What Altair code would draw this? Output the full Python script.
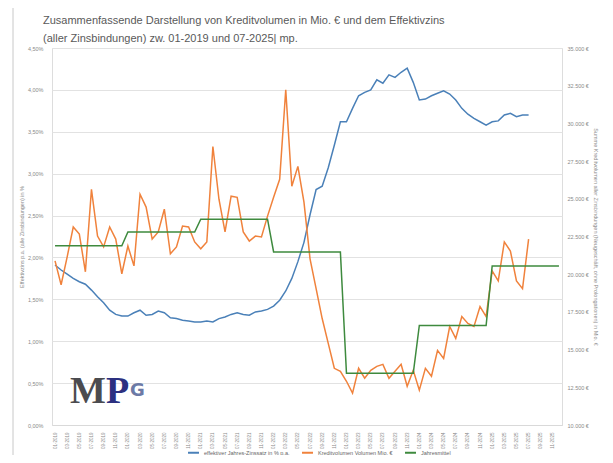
import altair as alt
import pandas as pd

# ---------------- data ----------------
years = [2019, 2020, 2021, 2022, 2023, 2024, 2025]
months = [f"{m:02d}-{y}" for y in years for m in range(1, 13)]  # 01-2019 .. 12-2025

# Effektivzins (alle Zinsbindungen) in % p.a., 01-2019 .. 07-2025
zins = [1.91, 1.85, 1.80, 1.75, 1.71, 1.68, 1.61, 1.53, 1.46, 1.37, 1.32, 1.30,
        1.30, 1.34, 1.37, 1.31, 1.32, 1.36, 1.34, 1.28, 1.27, 1.25, 1.24, 1.23,
        1.23, 1.24, 1.23, 1.27, 1.29, 1.32, 1.34, 1.32, 1.31, 1.35, 1.36, 1.38,
        1.42, 1.49, 1.60, 1.75, 1.95, 2.18, 2.51, 2.81, 2.85, 3.07, 3.34, 3.62,
        3.62, 3.78, 3.93, 3.97, 4.00, 4.12, 4.08, 4.18, 4.15, 4.21, 4.26, 4.09,
        3.88, 3.89, 3.93, 3.96, 3.99, 3.95, 3.88, 3.78, 3.71, 3.66, 3.62, 3.58,
        3.62, 3.63, 3.70, 3.72, 3.68, 3.70, 3.70]

# Kreditvolumen in Mio. EUR, 01-2019 .. 07-2025
volumen = [20880, 19300, 21150, 23130, 22660, 20160, 25630, 22530, 21810, 23130, 22330, 20030,
           21870, 20550, 25300, 24450, 22330, 22800, 24310, 21350, 21810, 23190, 23130, 22140,
           21680, 22140, 28470, 24970, 22800, 25170, 25100, 22800, 22200, 22530, 22470, 23850,
           25100, 26290, 32230, 25830, 27150, 24780, 21020, 19040, 17060, 15410, 13760, 13560,
           12900, 12110, 13760, 13100, 13630, 13890, 14020, 13100, 13560, 14020, 12570, 13630,
           12310, 13760, 13230, 14950, 14420, 16530, 15740, 17190, 16730, 16530, 17850, 17190,
           20220, 19560, 22140, 21540, 19560, 19040, 22330]

# Jahresmittel des Kreditvolumens in Mio. EUR
jahresmittel = [21890, 22800, 23650, 21480, 13430, 16600, 20550]

series_names = ["effektiver Jahres-Zinssatz in % p.a.",
                "Kreditvolumen Volumen Mio. €",
                "Jahresmittel"]
series_colors = ["#4A80B8", "#F0823C", "#3E8A3E"]

title_lines = ["Zusammenfassende Darstellung von Kreditvolumen in Mio. € und dem Effektivzins",
               "(aller Zinsbindungen) zw. 01-2019 und 07-2025| mp."]

# ---------------- tables ----------------
df_zins = pd.DataFrame({"Monat": months[:len(zins)], "Wert": zins, "Serie": series_names[0]})
df_vol = pd.DataFrame({"Monat": months[:len(volumen)], "Wert": volumen, "Serie": series_names[1]})
df_jm = pd.DataFrame({"Monat": months,
                      "Wert": [jahresmittel[i // 12] for i in range(len(months))],
                      "Serie": series_names[2]})
df_right = pd.concat([df_vol, df_jm], ignore_index=True)

W, H = 510, 377
FONT = "Liberation Sans"
GREY = "#8a8a8a"

x_enc = alt.X("Monat:O", sort=months,
              scale=alt.Scale(domain=months, type="point", padding=0.5),
              axis=alt.Axis(values=months[::2], labelAngle=-90, labelFontSize=4.5,
                            labelColor=GREY, labelPadding=7, ticks=False,
                            domain=True, domainColor="#d9d9d9", grid=False, title=None))

color_enc = alt.Color("Serie:N",
                      scale=alt.Scale(domain=series_names, range=series_colors),
                      legend=alt.Legend(orient="none", legendX=135, legendY=398,
                                        direction="horizontal", title=None,
                                        symbolType="stroke", symbolSize=120,
                                        symbolStrokeWidth=2, labelFontSize=5.5,
                                        labelColor="#666666", columnPadding=8,
                                        labelFont=FONT))

left = alt.Chart(df_zins).mark_line(strokeWidth=1.5).encode(
    x=x_enc,
    y=alt.Y("Wert:Q", scale=alt.Scale(domain=[0, 4.5], nice=False, zero=False),
            axis=alt.Axis(orient="left", values=[i * 0.5 for i in range(10)],
                          labelExpr="replace(format(datum.value, '.2f'), '.', ',') + '%'",
                          labelFontSize=5.5, labelColor=GREY, labelPadding=9,
                          ticks=False, domain=False, grid=True, gridColor="#e2e2e2",
                          title="Effektivzins p.a. (alle Zinsbindungen) in %",
                          titleFontSize=5.5, titleFontWeight="normal",
                          titleColor=GREY, titlePadding=3)),
    color=color_enc,
)

right = alt.Chart(df_right).mark_line(strokeWidth=1.5).encode(
    x=x_enc,
    y=alt.Y("Wert:Q", scale=alt.Scale(domain=[10000, 35000], nice=False, zero=False),
            axis=alt.Axis(orient="right", values=[10000 + 2500 * i for i in range(11)],
                          labelExpr="replace(format(datum.value, ',.0f'), ',', '.') + ' €'",
                          labelFontSize=5.5, labelColor=GREY, labelPadding=5,
                          ticks=False, domain=False, grid=False,
                          title="Summe Kreditvolumen aller Zinsbindungen (Neugeschäft, ohne Prolongationen) in Mio. €",
                          titleFontSize=5.5, titleFontWeight="normal",
                          titleColor=GREY, titlePadding=4)),
    color=color_enc,
)

one = pd.DataFrame({"a": [0]})
frame = alt.Chart(one).mark_rect(fill="transparent", stroke="#c8c8c8", strokeWidth=1).encode(
    x=alt.value(-39), x2=alt.value(620), y=alt.value(-41), y2=alt.value(520))
title1 = alt.Chart(one).mark_text(text=title_lines[0], font=FONT, fontSize=11,
                                  color="#595959", align="left", baseline="alphabetic").encode(
    x=alt.value(-9), y=alt.value(-24))
title2 = alt.Chart(one).mark_text(text=title_lines[1], font=FONT, fontSize=11,
                                  color="#595959", align="left", baseline="alphabetic").encode(
    x=alt.value(-9), y=alt.value(-6))
logo_m = alt.Chart(one).mark_text(text="M", font="Liberation Serif", fontSize=38,
                                  fontWeight="bold", color="#4b4b4f", align="left",
                                  baseline="alphabetic").encode(
    x=alt.value(18), y=alt.value(355))
logo_p = alt.Chart(one).mark_text(text="P", font="Liberation Serif", fontSize=38,
                                  fontWeight="bold", color="#2c3080", align="left",
                                  baseline="alphabetic").encode(
    x=alt.value(54), y=alt.value(355))
logo_c = alt.Chart(one).mark_text(text="G", font="DejaVu Sans", fontSize=18,
                                  fontWeight="bold", color="#6c7aa6", align="left",
                                  baseline="alphabetic").encode(
    x=alt.value(78), y=alt.value(348))

chart = alt.layer(frame, title1, title2, logo_m, logo_p, logo_c, left,
                  alt.layer(right)).resolve_scale(y="independent").properties(
    width=W, height=H,
    autosize=alt.AutoSizeParams(type="none"),
    padding={"left": 44, "top": 40, "right": 42, "bottom": 30},
).configure_view(stroke=None).configure(background="white")

chart.save("out.html", embed_options={"renderer": "svg", "actions": False})
